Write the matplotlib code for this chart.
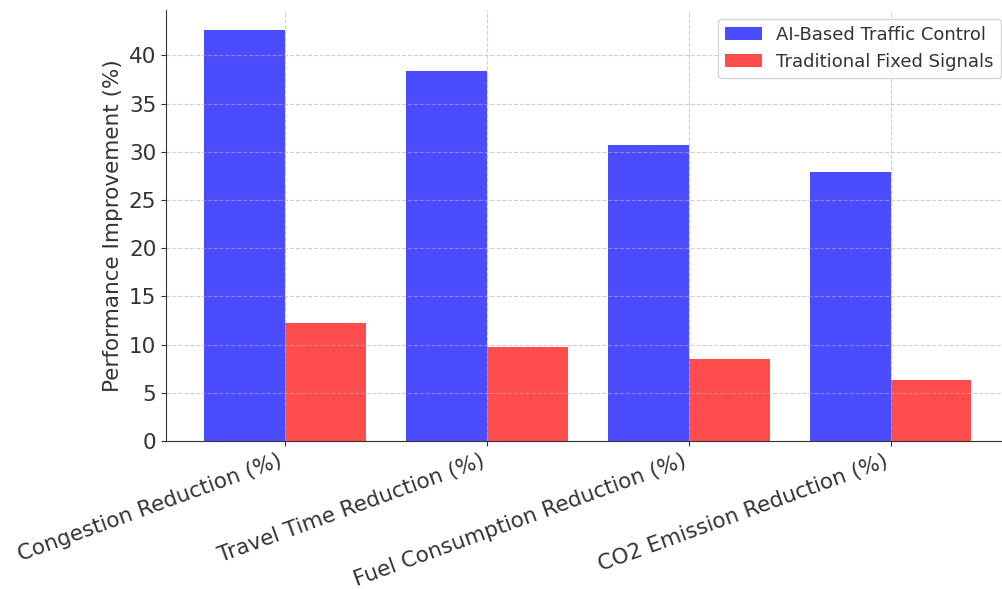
import numpy as np
import matplotlib
matplotlib.use("Agg")
import matplotlib.pyplot as plt

categories = ['Congestion Reduction (%)', 'Travel Time Reduction (%)',
              'Fuel Consumption Reduction (%)', 'CO2 Emission Reduction (%)']
ai_based = [42.6, 38.4, 30.7, 27.9]
traditional = [12.2, 9.8, 8.5, 6.3]

x = np.arange(len(categories))
width = 0.4

plt.rcParams['text.color'] = '#333333'
plt.rcParams['axes.labelcolor'] = '#333333'
plt.rcParams['xtick.color'] = '#333333'
plt.rcParams['ytick.color'] = '#333333'
plt.rcParams['axes.edgecolor'] = '#333333'

fig = plt.figure(figsize=(10.02, 5.89), dpi=100)
ax = fig.add_axes([0.1657, 0.2513, 0.842, 0.732])

ax.bar(x - width / 2, ai_based, width, label='AI-Based Traffic Control',
       color='blue', alpha=0.7)
ax.bar(x + width / 2, traditional, width, label='Traditional Fixed Signals',
       color='red', alpha=0.7)

ax.set_ylabel('Performance Improvement (%)', fontsize=15.5)
ax.set_xticks(x)
ax.set_xticklabels(categories, rotation=20, ha='right', fontsize=15.5)
ax.tick_params(axis='y', labelsize=15.5)
ax.legend(loc='upper right', fontsize=13)
ax.grid(True, linestyle='--', alpha=0.6)
ax.spines['top'].set_visible(False)
ax.spines['right'].set_visible(False)

fig.savefig('out.png', dpi=100)
